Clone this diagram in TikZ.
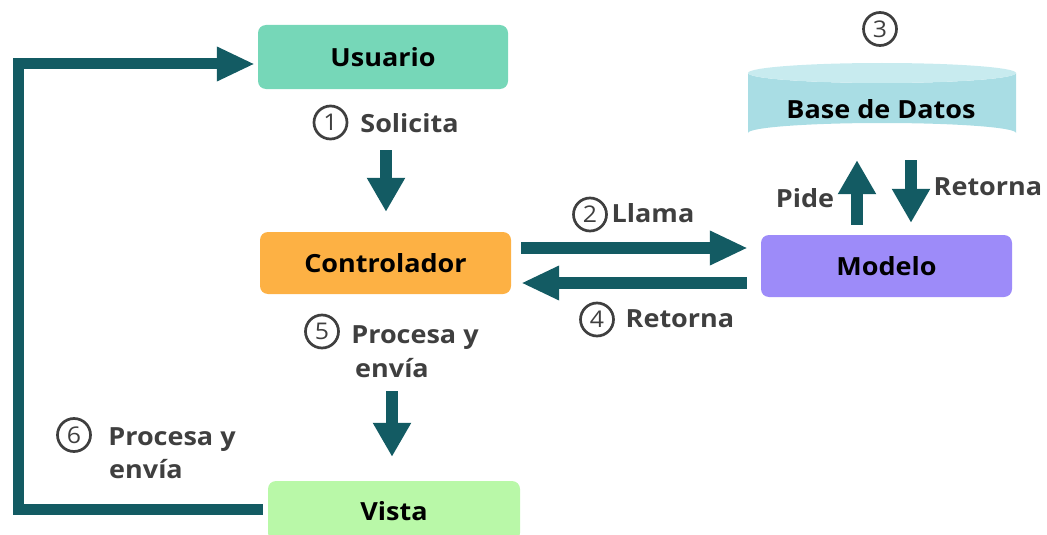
\documentclass[tikz,border=0pt]{standalone}
\usepackage{fontspec}
\setmainfont{Open Sans}[FakeStretch=1.08]
\usetikzlibrary{arrows.meta}
\definecolor{arrowcol}{HTML}{135B63}
\definecolor{labelgray}{HTML}{3F3F3F}
\definecolor{usercol}{HTML}{76D7B8}
\definecolor{ctlcol}{HTML}{FDB144}
\definecolor{vistacol}{HTML}{B9F8A8}
\definecolor{modcol}{HTML}{9D8BF9}
\definecolor{dbbody}{HTML}{A9DDE4}
\definecolor{dbtop}{HTML}{C8EBEF}
\begin{document}
\begin{tikzpicture}[x=1pt,y=-1pt,
  box/.style={rounded corners=8pt, inner sep=0pt, font=\bfseries\fontsize{25}{30}\selectfont, text=black},
  lbl/.style={font=\bfseries\fontsize{25}{30}\selectfont, text=labelgray, inner sep=0pt},
  cnum/.style={circle, draw=labelgray, line width=2.7pt, minimum size=33pt, inner sep=0pt, font=\fontsize{23}{23}\selectfont, text=labelgray},
  arr/.style={draw=arrowcol, line width=12pt, line join=miter, -{Triangle[width=36pt,length=34pt]}}]
\useasboundingbox (0,0) rectangle (1047,535);
\clip (0,0) rectangle (1047,535);
% database cylinder
\fill[dbbody] (748,73) -- (748,133) arc[start angle=180, end angle=360, x radius=134, y radius=10] -- (1016,73) arc[start angle=0, end angle=180, x radius=134, y radius=10] -- cycle;
\fill[dbtop] (882,73) ellipse [x radius=134, y radius=10];
\node[minimum width=268pt, minimum height=80pt, inner sep=0pt] (db) at (882,103) {};
\node[box, anchor=base] (dbt) at (881,118) {Base de Datos};
% boxes
\node[box, fill=usercol, minimum width=250pt, minimum height=64pt] (usr) at (383,57) {Usuario};
\node[box, fill=ctlcol, minimum width=251pt, minimum height=62pt] (ctl) at (385.5,263) {Controlador};
\node[box, fill=vistacol, minimum width=252pt, minimum height=60pt] (vista) at (394,511) {Vista};
\node[box, fill=modcol, minimum width=251pt, minimum height=62pt] (mod) at (886.5,266) {Modelo};
% arrows
\draw[arr, line width=11pt, -{Triangle[width=32pt,length=38pt]}] ([xshift=-5pt,yshift=2pt]vista.west) -| (18,64) -- ([xshift=-3pt,yshift=-7pt]usr.west);
\draw[arr] ([xshift=3pt,yshift=-61pt]usr.south) -- ([xshift=0.5pt,yshift=20pt]ctl.north);
\draw[arr, -{Triangle[width=32pt,length=38pt]}] ([xshift=10pt,yshift=15pt]ctl.east) -- ([xshift=-13pt,yshift=18pt]mod.west);
\draw[arr, -{Triangle[width=32pt,length=38pt]}] ([xshift=-14pt,yshift=-17pt]mod.west) -- ([xshift=10pt,yshift=-20pt]ctl.east);
\draw[arr] ([xshift=6.5pt,yshift=-97pt]ctl.south) -- ([xshift=-2pt,yshift=24pt]vista.north);
\draw[arr] ([xshift=-29.5pt,yshift=10pt]mod.north) -- ([xshift=-25pt,yshift=-17pt]db.south);
\draw[arr] ([xshift=29pt,yshift=-17pt]db.south) -- ([xshift=24.5pt,yshift=12pt]mod.north);
% labels
\node[cnum] (c1) at (330.5,122.5) {1};
\node[lbl, anchor=base] (t1) at (409.5,132) {Solicita};
\node[cnum] (c2) at (590,214.5) {2};
\node[lbl, anchor=base] (t2) at (653,222) {Llama};
\node[cnum] (c3) at (880,29) {3};
\node[lbl, anchor=base] (tp) at (805,207) {Pide};
\node[lbl, anchor=base] (tr) at (988,195) {Retorna};
\node[cnum] (c4) at (597,319.5) {4};
\node[lbl, anchor=base] (t4) at (680,327) {Retorna};
\node[cnum] (c5) at (322,331.5) {5};
\node[lbl, anchor=base] (t5a) at (415,343) {Procesa y};
\node[lbl, anchor=base] (t5b) at (392,377) {envía};
\node[cnum] (c6) at (74,435) {6};
\node[lbl, anchor=base] (t6a) at (172,445) {Procesa y};
\node[lbl, anchor=base] (t6b) at (146,478) {envía};
\end{tikzpicture}
\end{document}
